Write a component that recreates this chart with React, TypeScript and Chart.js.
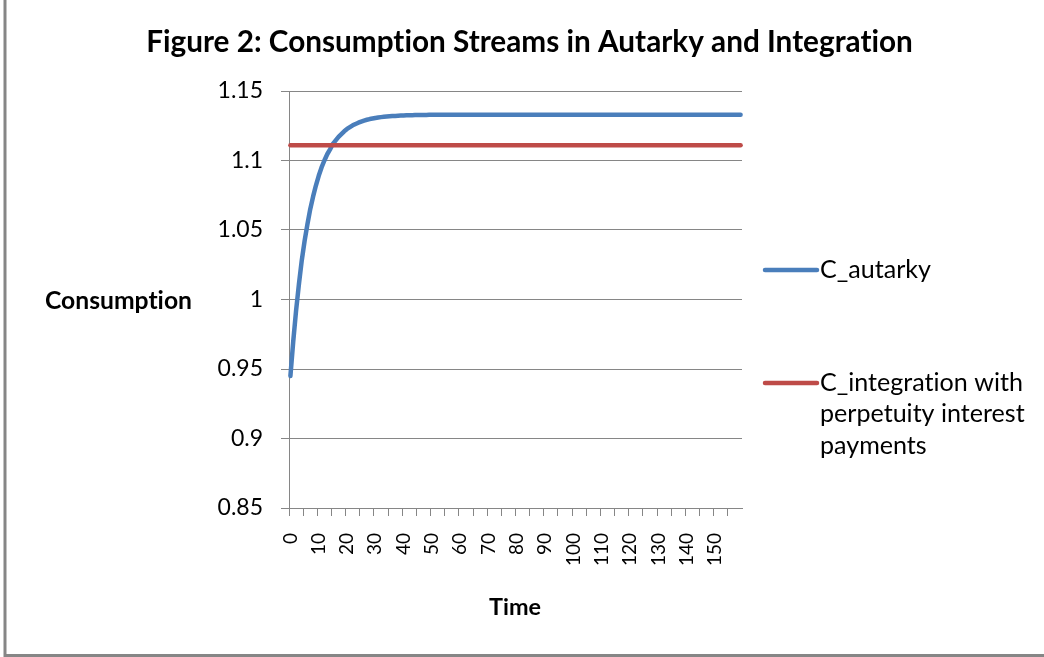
import React, { useEffect, useRef } from "react";
import { Chart, registerables } from "chart.js";

Chart.register(...registerables);

// ---------- data ----------
const chartTitle = "Figure 2: Consumption Streams in Autarky and Integration";
const yAxisTitle = "Consumption";
const xAxisTitle = "Time";
const seriesNames = ["C_autarky", "C_integration with perpetuity interest payments"];
const legendLines = [["C_autarky"], ["C_integration with", "perpetuity interest", "payments"]];

const categories = [
  0, 1, 2, 3, 4, 5, 6, 7, 8, 9, 10, 11, 12, 13, 14, 15, 16, 17, 18, 19,
  20, 21, 22, 23, 24, 25, 26, 27, 28, 29, 30, 31, 32, 33, 34, 35, 36, 37, 38, 39,
  40, 41, 42, 43, 44, 45, 46, 47, 48, 49, 50, 51, 52, 53, 54, 55, 56, 57, 58, 59,
  60, 61, 62, 63, 64, 65, 66, 67, 68, 69, 70, 71, 72, 73, 74, 75, 76, 77, 78, 79,
  80, 81, 82, 83, 84, 85, 86, 87, 88, 89, 90, 91, 92, 93, 94, 95, 96, 97, 98, 99,
  100, 101, 102, 103, 104, 105, 106, 107, 108, 109, 110, 111, 112, 113, 114, 115, 116, 117, 118, 119,
  120, 121, 122, 123, 124, 125, 126, 127, 128, 129, 130, 131, 132, 133, 134, 135, 136, 137, 138, 139,
  140, 141, 142, 143, 144, 145, 146, 147, 148, 149, 150, 151, 152, 153, 154, 155, 156, 157, 158, 159,
];

const xTickLabels = ["0", "10", "20", "30", "40", "50", "60", "70", "80", "90", "100", "110", "120", "130", "140", "150"];
const yTicks = [0.85, 0.9, 0.95, 1, 1.05, 1.1, 1.15];

const cAutarky = [
  0.945, 0.970, 0.992, 1.011, 1.028, 1.042, 1.054, 1.065, 1.074, 1.082,
  1.089, 1.095, 1.100, 1.1045, 1.108, 1.112, 1.1145, 1.117, 1.119, 1.121,
  1.1227, 1.124, 1.1253, 1.1263, 1.1272, 1.128, 1.1287, 1.1293, 1.1298, 1.1302,
  1.1306, 1.1309, 1.1312, 1.1314, 1.1316, 1.1318, 1.132, 1.1321, 1.1322, 1.1323,
  1.1324, 1.1325, 1.1326, 1.1326, 1.1327, 1.1327, 1.1328, 1.1328, 1.1328, 1.1329,
  1.133, 1.133, 1.133, 1.133, 1.133, 1.133, 1.133, 1.133, 1.133, 1.133,
  1.133, 1.133, 1.133, 1.133, 1.133, 1.133, 1.133, 1.133, 1.133, 1.133,
  1.133, 1.133, 1.133, 1.133, 1.133, 1.133, 1.133, 1.133, 1.133, 1.133,
  1.133, 1.133, 1.133, 1.133, 1.133, 1.133, 1.133, 1.133, 1.133, 1.133,
  1.133, 1.133, 1.133, 1.133, 1.133, 1.133, 1.133, 1.133, 1.133, 1.133,
  1.133, 1.133, 1.133, 1.133, 1.133, 1.133, 1.133, 1.133, 1.133, 1.133,
  1.133, 1.133, 1.133, 1.133, 1.133, 1.133, 1.133, 1.133, 1.133, 1.133,
  1.133, 1.133, 1.133, 1.133, 1.133, 1.133, 1.133, 1.133, 1.133, 1.133,
  1.133, 1.133, 1.133, 1.133, 1.133, 1.133, 1.133, 1.133, 1.133, 1.133,
  1.133, 1.133, 1.133, 1.133, 1.133, 1.133, 1.133, 1.133, 1.133, 1.133,
  1.133, 1.133, 1.133, 1.133, 1.133, 1.133, 1.133, 1.133, 1.133, 1.133,
];

const cIntegration = [
  1.111, 1.111, 1.111, 1.111, 1.111, 1.111, 1.111, 1.111, 1.111, 1.111,
  1.111, 1.111, 1.111, 1.111, 1.111, 1.111, 1.111, 1.111, 1.111, 1.111,
  1.111, 1.111, 1.111, 1.111, 1.111, 1.111, 1.111, 1.111, 1.111, 1.111,
  1.111, 1.111, 1.111, 1.111, 1.111, 1.111, 1.111, 1.111, 1.111, 1.111,
  1.111, 1.111, 1.111, 1.111, 1.111, 1.111, 1.111, 1.111, 1.111, 1.111,
  1.111, 1.111, 1.111, 1.111, 1.111, 1.111, 1.111, 1.111, 1.111, 1.111,
  1.111, 1.111, 1.111, 1.111, 1.111, 1.111, 1.111, 1.111, 1.111, 1.111,
  1.111, 1.111, 1.111, 1.111, 1.111, 1.111, 1.111, 1.111, 1.111, 1.111,
  1.111, 1.111, 1.111, 1.111, 1.111, 1.111, 1.111, 1.111, 1.111, 1.111,
  1.111, 1.111, 1.111, 1.111, 1.111, 1.111, 1.111, 1.111, 1.111, 1.111,
  1.111, 1.111, 1.111, 1.111, 1.111, 1.111, 1.111, 1.111, 1.111, 1.111,
  1.111, 1.111, 1.111, 1.111, 1.111, 1.111, 1.111, 1.111, 1.111, 1.111,
  1.111, 1.111, 1.111, 1.111, 1.111, 1.111, 1.111, 1.111, 1.111, 1.111,
  1.111, 1.111, 1.111, 1.111, 1.111, 1.111, 1.111, 1.111, 1.111, 1.111,
  1.111, 1.111, 1.111, 1.111, 1.111, 1.111, 1.111, 1.111, 1.111, 1.111,
  1.111, 1.111, 1.111, 1.111, 1.111, 1.111, 1.111, 1.111, 1.111, 1.111,
];

// ---------- styles ----------
const FONT = "Lato";
const GREY = "#868686";
const BLUE = "#4A7EBB";
const RED = "#BE4B48";
const W = 1044;
const H = 657;

function fitSize(ctx: CanvasRenderingContext2D, text: string, weight: string, target: number) {
  ctx.font = `${weight} 100px ${FONT}`;
  const w = ctx.measureText(text).width;
  return (100 * target) / w;
}

const decorPlugin = {
  id: "decor",
  afterDraw(chart: any) {
    const ctx: any = chart.ctx;
    ctx.save();
    // avoid "ti" ligatures of the substitute font
    try {
      ctx.textRendering = "optimizeSpeed";
      ctx.fontVariantLigatures = "none";
    } catch (e) {}

    // outer frame (left and bottom visible)
    ctx.strokeStyle = GREY;
    ctx.lineWidth = 3;
    ctx.beginPath();
    ctx.moveTo(5, -5);
    ctx.lineTo(5, 655.5);
    ctx.lineTo(W + 5, 655.5);
    ctx.stroke();

    ctx.fillStyle = "#000";
    ctx.textBaseline = "alphabetic";

    // title
    let s = fitSize(ctx, chartTitle, "bold", 767);
    ctx.font = `bold ${s}px ${FONT}`;
    ctx.textAlign = "center";
    ctx.fillText(chartTitle, 529.5, 52);

    // y-axis title
    s = fitSize(ctx, yAxisTitle, "bold", 147);
    ctx.font = `bold ${s}px ${FONT}`;
    ctx.fillText(yAxisTitle, 118.5, 309);

    // x-axis title
    s = fitSize(ctx, xAxisTitle, "bold", 52);
    ctx.font = `bold ${s}px ${FONT}`;
    ctx.fillText(xAxisTitle, 515, 615);

    // legend
    const ls = fitSize(ctx, legendLines[1][0], "normal", 203);
    const colors = [BLUE, RED];
    const lineY = [270, 383];
    const baseY = [278, 391];
    ctx.textAlign = "left";
    ctx.lineCap = "round";
    ctx.lineWidth = 4.5;
    for (let i = 0; i < legendLines.length; i++) {
      ctx.strokeStyle = colors[i];
      ctx.beginPath();
      ctx.moveTo(765, lineY[i]);
      ctx.lineTo(817, lineY[i]);
      ctx.stroke();
      ctx.font = `normal ${ls}px ${FONT}`;
      legendLines[i].forEach((ln, j) => {
        ctx.fillText(ln, 820, baseY[i] + j * 31.3);
      });
    }
    ctx.restore();
  },
};

export default function App() {
  const ref = useRef<HTMLCanvasElement>(null);
  useEffect(() => {
    document.body.style.margin = "0";
    const chart = new Chart(ref.current!, {
      type: "line",
      data: {
        labels: categories.map(String),
        datasets: [
          {
            label: seriesNames[0],
            data: cAutarky,
            borderColor: BLUE,
            backgroundColor: BLUE,
            borderWidth: 4.5,
            pointRadius: 0,
            tension: 0,
            borderCapStyle: "round",
            borderJoinStyle: "round",
            order: 1,
          },
          {
            label: seriesNames[1],
            data: cIntegration,
            borderColor: RED,
            backgroundColor: RED,
            borderWidth: 4.5,
            pointRadius: 0,
            tension: 0,
            borderCapStyle: "round",
            order: 0,
          },
        ],
      },
      options: {
        responsive: false,
        animation: false,
        events: [],
        layout: { padding: { left: 0, right: W - 742, top: 91, bottom: 0 } },
        plugins: {
          legend: { display: false },
          tooltip: { enabled: false },
          title: { display: false },
        },
        scales: {
          x: {
            type: "category",
            offset: true,
            grid: {
              offset: true,
              drawOnChartArea: false,
              drawTicks: true,
              tickLength: 8,
              lineWidth: 1,
              color: (c: any) =>
                typeof c.index === "number" && c.index % 5 === 0 ? GREY : "rgba(0,0,0,0)",
            },
            border: { display: true, color: GREY, width: 1 },
            ticks: {
              autoSkip: false,
              minRotation: 90,
              maxRotation: 90,
              padding: 17,
              color: "#000",
              font: { family: FONT, size: 19 },
              callback: (_v: any, i: number) => {
                const lab = String(categories[i]);
                return xTickLabels.includes(lab) ? lab : "";
              },
            },
            afterFit: (s: any) => {
              s.height = H - 508;
            },
          },
          y: {
            min: 0.85,
            max: 1.15,
            afterBuildTicks: (s: any) => {
              s.ticks = yTicks.map((v) => ({ value: v }));
            },
            grid: { color: GREY, lineWidth: 1, tickLength: 8, drawTicks: true },
            border: { display: true, color: GREY, width: 1 },
            ticks: {
              padding: 18,
              color: "#000",
              font: { family: FONT, size: 23 },
              callback: (v: any) => String(Number(Number(v).toFixed(2))),
            },
            afterFit: (s: any) => {
              s.width = 289;
            },
          },
        },
      },
      plugins: [decorPlugin],
    });
    return () => chart.destroy();
  }, []);
  return (
    <div style={{ width: W, height: H, background: "#fff" }}>
      <canvas ref={ref} width={W} height={H} style={{ display: "block" }} />
    </div>
  );
}
